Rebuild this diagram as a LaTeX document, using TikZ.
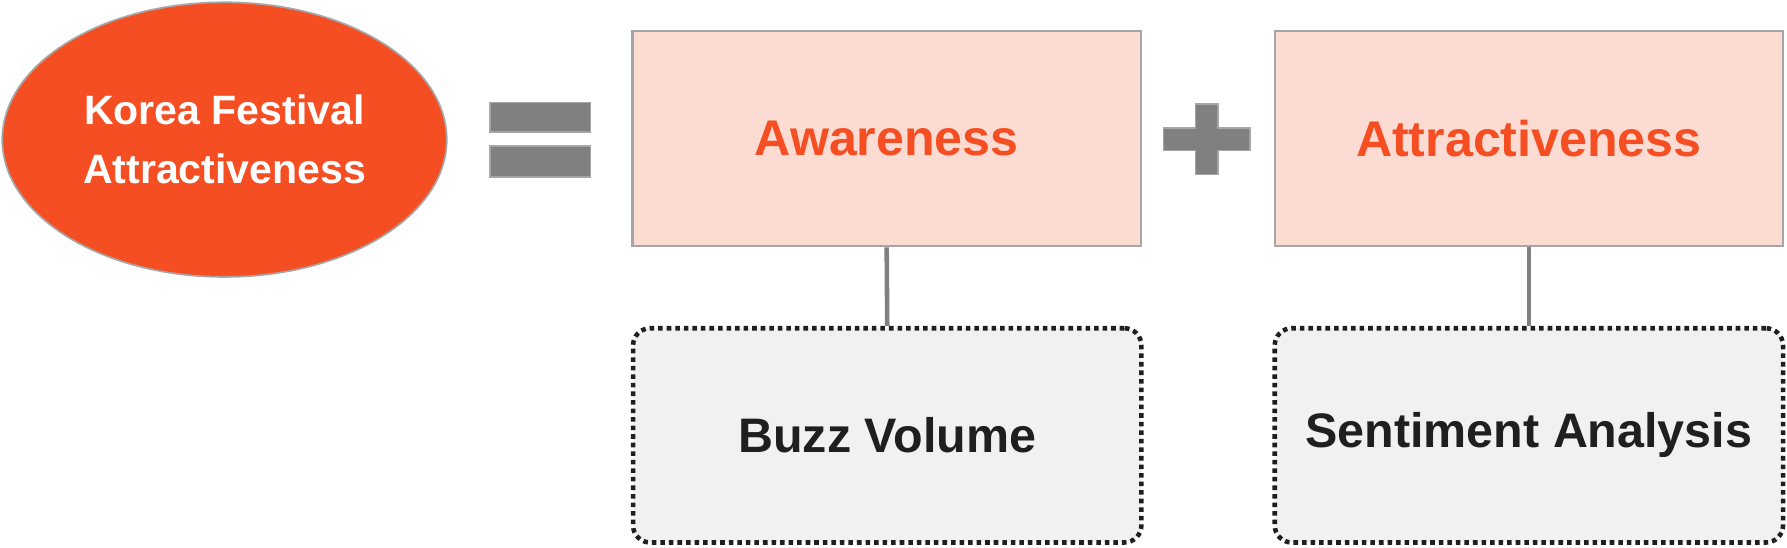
\documentclass[tikz,border=0pt]{standalone}
\usepackage{fontspec}
\setmainfont{Liberation Sans}
\usetikzlibrary{shapes.geometric}
\definecolor{orng}{HTML}{F54E23}
\definecolor{pinkfill}{HTML}{FCDBD3}
\definecolor{bordergray}{HTML}{A6A6A6}
\definecolor{opgray}{HTML}{808080}
\definecolor{boxgray}{HTML}{F1F1F1}
\definecolor{darktext}{HTML}{1F1F1F}
\tikzset{
  mainoval/.style={ellipse, draw=bordergray, line width=1.5pt, fill=orng, minimum width=390pt, minimum height=241pt, inner sep=0pt, text=white, align=center, font=\bfseries\fontsize{36}{52}\selectfont},
  factorbox/.style={rectangle, draw=bordergray, line width=2pt, fill=pinkfill, minimum width=446pt, minimum height=189pt, inner sep=0pt, text=orng, font=\bfseries\fontsize{44}{52}\selectfont},
  metricbox/.style={rectangle, rounded corners=15pt, draw=darktext, line width=4pt, dash pattern=on 4pt off 3.5pt, fill=boxgray, minimum width=446pt, minimum height=188pt, inner sep=0pt, text=darktext, font=\bfseries\fontsize{42.5}{50}\selectfont},
  opshape/.style={fill=opgray, draw=bordergray, line width=1.5pt},
  link/.style={draw=opgray, line width=4pt}
}
\begin{document}
\begin{tikzpicture}[x=1pt,y=-1pt]
\useasboundingbox (0,0) rectangle (1568,480);
\node[mainoval] (kfa) at (197,122.5) {Korea Festival\\Attractiveness};
\node[factorbox] (aw) at (778,121.5) {Awareness};
\node[factorbox] (at) at (1341.5,121.5) {Attractiveness};
\node[metricbox] (bv) at (778.5,382) {Buzz Volume};
\node[metricbox] (sa) at (1341.5,382) {Sentiment Analysis};
\draw[link] (aw.south) -- (bv.north);
\draw[link] (at.south) -- (sa.north);
% equals sign
\path[opshape] (430,90) rectangle (518,116);
\path[opshape] (430,128) rectangle (518,155);
% plus sign
\path[opshape] (1021,112) -- (1049,112) -- (1049,91) -- (1069,91) -- (1069,112) -- (1097,112) -- (1097,132) -- (1069,132) -- (1069,153) -- (1049,153) -- (1049,132) -- (1021,132) -- cycle;
\end{tikzpicture}
\end{document}
